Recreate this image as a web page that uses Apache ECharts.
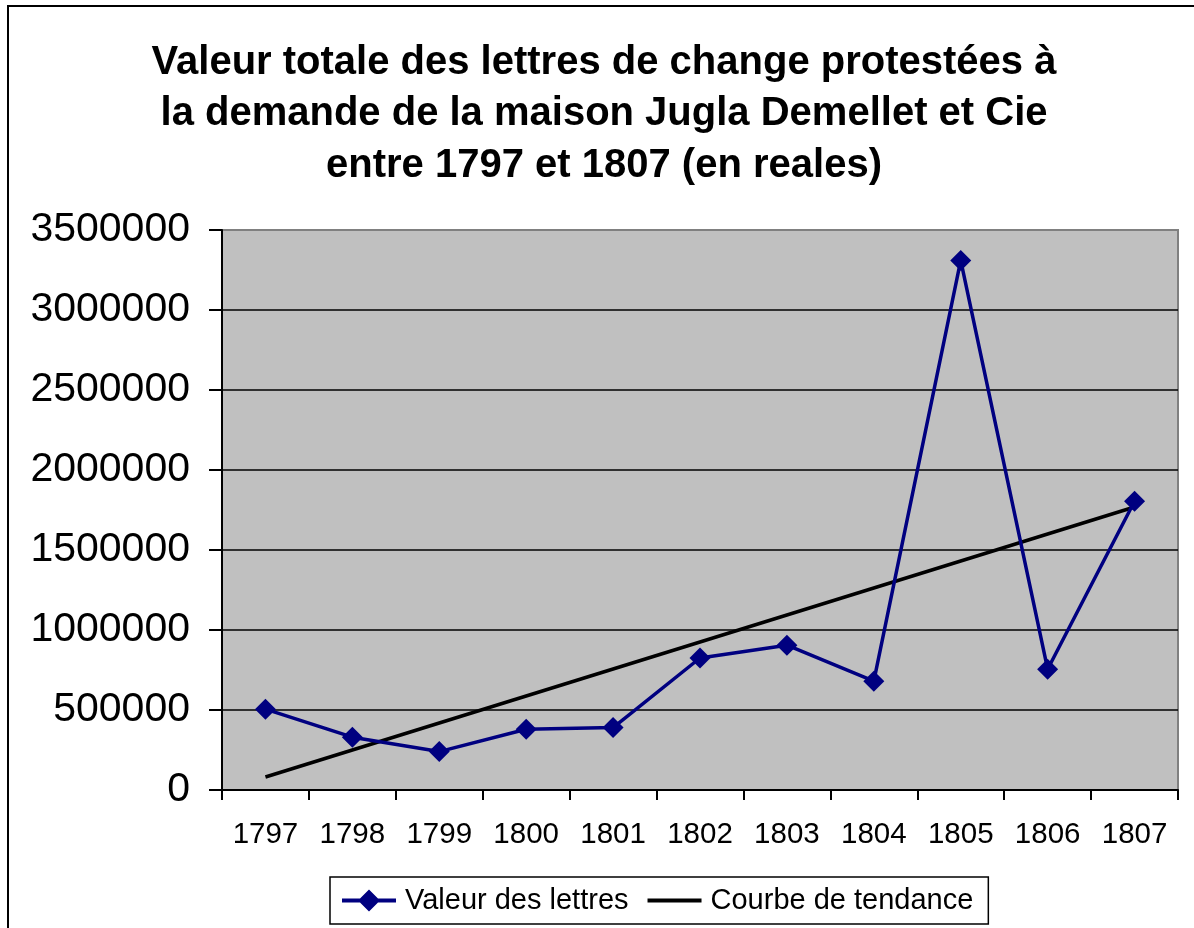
<!DOCTYPE html>
<html>
<head>
<meta charset="utf-8">
<script src="https://cdn.jsdelivr.net/npm/echarts@6/dist/echarts.min.js"></script>
<style>
  html, body { margin: 0; padding: 0; background: #fff; }
  #chart { width: 1194px; height: 928px; }
</style>
</head>
<body>
<div id="chart"></div>
<script>
var years = ['1797','1798','1799','1800','1801','1802','1803','1804','1805','1806','1807'];
// valeur des lettres (reales)
var valeurs = [505000, 330000, 240000, 380000, 390000, 825000, 905000, 680000, 3310000, 755000, 1805000];
// trend line, only its two end points as drawn
var tendance = [81000, null, null, null, null, null, null, null, null, null, 1769000];
var yTicks = { min: 0, max: 3500000, interval: 500000 };

var font = "'Liberation Sans', Arial, sans-serif";

var option = {
    animation: false,
    backgroundColor: '#fff',
    graphic: [{
        type: 'rect',
        shape: { x: 8, y: 6, width: 1200, height: 940 },
        style: { fill: 'none', stroke: '#000', lineWidth: 2 },
        silent: true
    }, {
        type: 'text',
        style: {
            text: 'Valeur totale des lettres de change protestées à\nla demande de la maison Jugla Demellet et Cie\nentre 1797 et 1807 (en reales)',
            x: 604,
            y: 37,
            textAlign: 'center',
            textVerticalAlign: 'top',
            font: 'bold 40px ' + font,
            lineHeight: 51.5,
            fill: '#000'
        },
        silent: true
    }],
    grid: {
        left: 222,
        right: 16,
        top: 230,
        bottom: 138,
        show: true,
        backgroundColor: '#c0c0c0',
        borderColor: '#808080',
        borderWidth: 2
    },
    legend: {
        left: 330,
        top: 877,
        padding: [9, 15, 9, 12],
        itemGap: 19,
        itemWidth: 54,
        itemHeight: 22,
        borderColor: '#000',
        borderWidth: 1.5,
        backgroundColor: '#fff',
        textStyle: { fontFamily: font, fontSize: 29, color: '#000', padding: [0, 0, 0, 4] },
        data: [{
            name: 'Valeur des lettres',
            icon: 'path://M0,9H18L27,0L36,9H54V13H36L27,22L18,13H0Z'
        }, {
            name: 'Courbe de tendance',
            icon: 'path://M0,0L0,0.01Z M0,9H54V13H0Z M54,22L54,21.99Z'
        }]
    },
    xAxis: {
        type: 'category',
        data: years,
        boundaryGap: true,
        axisLine: { lineStyle: { color: '#000', width: 2 } },
        axisTick: { show: true, length: 10, lineStyle: { color: '#000', width: 2 } },
        axisLabel: { fontFamily: font, fontSize: 29.5, color: '#000', margin: 30 },
        splitLine: { show: false }
    },
    yAxis: {
        type: 'value',
        min: yTicks.min,
        max: yTicks.max,
        interval: yTicks.interval,
        axisLine: { show: true, lineStyle: { color: '#000', width: 2 } },
        axisTick: { show: true, length: 13, lineStyle: { color: '#000', width: 2 } },
        axisLabel: {
            fontFamily: font,
            fontSize: 41,
            color: '#000',
            margin: 32,
            formatter: function (v) { return String(v); }
        },
        splitLine: {
            show: true,
            lineStyle: {
                color: ['#000', '#000', '#000', '#000', '#000', '#000', '#000', '#808080'],
                width: 1.5
            }
        }
    },
    series: [{
        name: 'Valeur des lettres',
        type: 'line',
        data: valeurs,
        symbol: 'diamond',
        symbolSize: 21,
        lineStyle: { color: '#000080', width: 3.5 },
        itemStyle: { color: '#000080' },
        z: 3
    }, {
        name: 'Courbe de tendance',
        type: 'line',
        data: tendance,
        connectNulls: true,
        showSymbol: false,
        symbol: 'none',
        lineStyle: { color: '#000', width: 3.5 },
        itemStyle: { color: '#000' },
        z: 2
    }]
};

var myChart = echarts.init(document.getElementById('chart'));
myChart.setOption(option, true);
</script>
</body>
</html>
